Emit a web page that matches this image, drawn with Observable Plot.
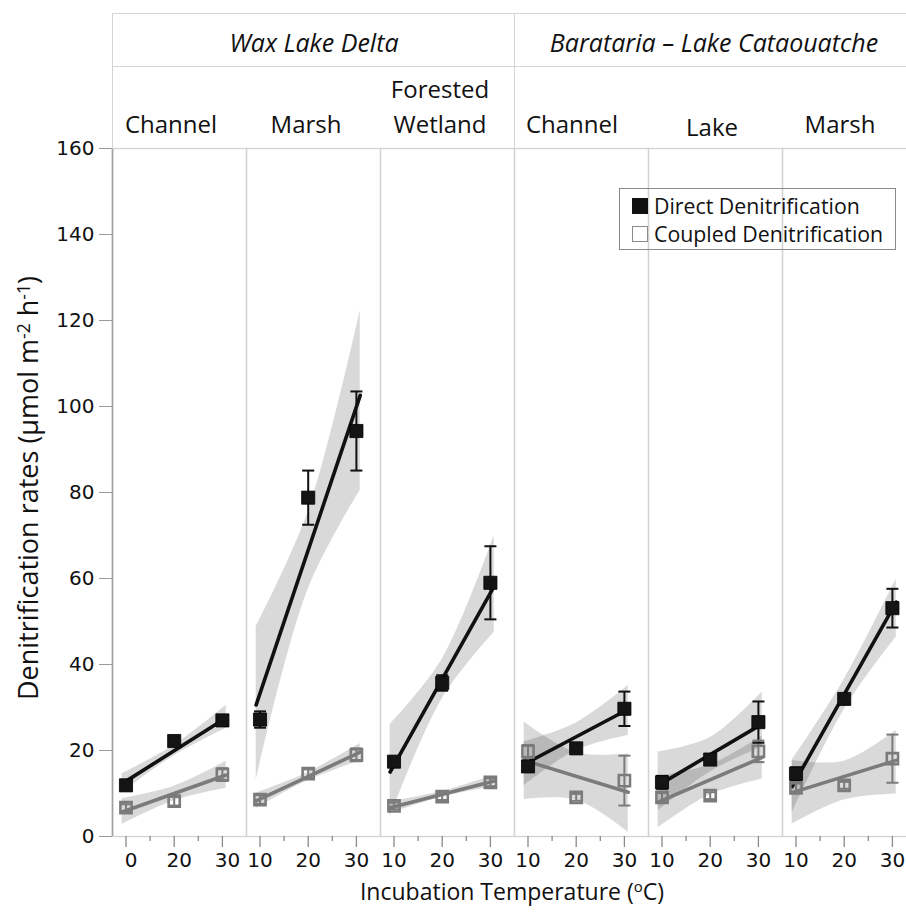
<!DOCTYPE html>
<html><head><meta charset="utf-8">
<script src="https://cdn.jsdelivr.net/npm/d3@7"></script>
<script src="https://cdn.jsdelivr.net/npm/@observablehq/plot@0.6"></script>
<style>
html,body{margin:0;padding:0;background:#fff;}
#wrap{position:relative;width:906px;height:921px;overflow:hidden;font-family:"Open Sans",sans-serif;color:#111;}
#wrap svg{position:absolute;left:0;top:0;max-width:none !important;width:916px !important;height:921px !important;}
.ln{position:absolute;background:#d4d4d4;}
.lbl{position:absolute;transform:translate(-50%,-50%);white-space:nowrap;line-height:1.15;text-align:center;}
.grp{font-style:italic;font-size:25px;}
.sub{font-size:24px;}
#legend{position:absolute;left:619px;top:188px;width:277px;height:62px;border:1.5px solid #8a8a8a;box-sizing:border-box;font-size:21.3px;}
#legend .it{position:absolute;left:12px;display:flex;align-items:center;white-space:nowrap;}
#legend .sq{width:16px;height:16px;box-sizing:border-box;margin-right:6px;}
sup{font-size:65%;vertical-align:0.5em;line-height:0;}
</style></head><body><div id="wrap"></div>
<script>
// ---------- data ----------
const panels = ["WLD Channel", "WLD Marsh", "WLD Forested Wetland", "BLC Channel", "BLC Lake", "BLC Marsh"];
const groups = ["Wax Lake Delta", "Barataria – Lake Cataouatche"];
const panelTitles = ["Channel", "Marsh", "Forested<br>Wetland", "Channel", "Lake", "Marsh"];
const series = ["Direct Denitrification", "Coupled Denitrification"];
const temps = [10, 20, 30];
const minorTemps = [15, 25];
const xTickLabels = [["0", "20", "30"], ["10", "20", "30"], ["10", "20", "30"], ["10", "20", "30"], ["10", "20", "30"], ["10", "20", "30"]];
const yTicks = [0, 20, 40, 60, 80, 100, 120, 140, 160];

const directMean = [[11.9, 22.2, 27.0], [27.2, 78.8, 94.3], [17.4, 35.7, 59.0], [16.3, 20.5, 29.7], [12.6, 17.9, 26.6], [14.6, 32.0, 53.1]];
const directErr  = [[1.0, 0.8, 1.2], [1.9, 6.3, 9.2], [1.0, 1.8, 8.5], [1.0, 1.0, 4.0], [1.5, 0.8, 4.8], [1.5, 0.8, 4.5]];
const coupledMean = [[6.7, 8.2, 14.4], [8.6, 14.6, 19.0], [7.1, 9.3, 12.6], [19.8, 9.1, 13.0], [9.1, 9.5, 19.8], [11.3, 11.9, 18.1]];
const coupledErr  = [[0.8, 1.0, 1.5], [1.0, 1.0, 1.5], [0.8, 0.8, 0.9], [1.5, 0.8, 5.8], [1.0, 0.8, 2.5], [1.0, 0.8, 5.6]];

// fitted regression lines (value at the two ends of the fit range)
const fitX = [9.2, 30.8];
const directFit  = [[12.3, 27.6], [30.6, 102.6], [15.0, 58.2], [16.8, 29.6], [11.9, 26.2], [11.6, 54.5]];
const coupledFit = [[5.7, 14.3], [8.3, 19.6], [6.7, 12.9], [17.7, 10.3], [8.0, 18.4], [10.2, 17.7]];

// confidence bands (lower / upper at the left end, middle and right end)
const bandX = [9.2, 20, 30.8];
const directBandLo  = [[10.2, 18.8, 25.2], [13.0, 57.5, 80.5], [4.5, 32.0, 47.5], [11.8, 20.0, 23.5], [6.0, 15.0, 20.8], [5.5, 29.5, 46.4]];
const directBandHi  = [[14.6, 21.2, 30.5], [48.7, 75.5, 122.3], [26.0, 41.2, 70.0], [22.0, 26.4, 35.1], [19.6, 23.0, 33.6], [17.7, 36.5, 59.9]];
const coupledBandLo = [[2.8, 8.3, 11.2], [6.5, 13.0, 17.6], [5.4, 9.1, 11.6], [8.6, 8.5, 1.0], [2.0, 9.7, 13.4], [2.9, 8.5, 9.9]];
const coupledBandHi = [[8.8, 11.7, 17.5], [10.1, 14.9, 21.6], [8.0, 10.5, 14.2], [26.6, 19.5, 19.2], [14.0, 16.7, 23.4], [17.7, 17.5, 24.7]];

// ---------- tables ----------
const points = [], fits = [], bands = [], xlabels = [];
panels.forEach((p, i) => {
  [[series[0], directMean, directErr, directFit, directBandLo, directBandHi],
   [series[1], coupledMean, coupledErr, coupledFit, coupledBandLo, coupledBandHi]].forEach(([s, m, e, f, lo, hi]) => {
    temps.forEach((t, j) => points.push({panel: p, series: s, x: t, y: m[i][j], lo: m[i][j] - e[i][j], hi: m[i][j] + e[i][j]}));
    fitX.forEach((x, k) => fits.push({panel: p, series: s, x, y: f[i][k]}));
    bandX.forEach((x, k) => bands.push({panel: p, series: s, x, lo: lo[i][k], hi: hi[i][k]}));
  });
  temps.forEach((t, j) => xlabels.push({panel: p, x: t, label: xTickLabels[i][j]}));
});
const col = s => s === series[0] ? "#111" : "#7b7b7b";
const capW = 1.25;
const xDomain = [7.2, 35];

const chart = Plot.plot({
  width: 916, height: 921,
  marginLeft: 112, marginRight: 0, marginTop: 148, marginBottom: 85,
  fx: {domain: panels, padding: 0, axis: null},
  x: {domain: xDomain, axis: null},
  y: {domain: [0, 160], axis: null},
  style: {fontFamily: "DejaVu Sans", fontSize: "20px", color: "#111", background: "transparent"},
  marks: [
    Plot.frame({stroke: "#d2d2d2", strokeWidth: 1.3}),
    Plot.ruleX([{p: panels[0], x: xDomain[0]}], {fx: "p", x: "x", stroke: "#a0a0a0", strokeWidth: 1.6}),
    Plot.areaY(bands, {fx: "panel", x: "x", y1: "lo", y2: "hi", z: "series", fill: "#000", fillOpacity: 0.15, curve: "catmull-rom"}),
    Plot.line(fits, {fx: "panel", x: "x", y: "y", z: "series", stroke: d => col(d.series), strokeWidth: 3.6}),
    Plot.ruleX(points, {fx: "panel", x: "x", y1: "lo", y2: "hi", stroke: d => col(d.series), strokeWidth: 2}),
    Plot.link(points, {fx: "panel", x1: d => d.x - capW, x2: d => d.x + capW, y1: "hi", y2: "hi", stroke: d => col(d.series), strokeWidth: 2}),
    Plot.link(points, {fx: "panel", x1: d => d.x - capW, x2: d => d.x + capW, y1: "lo", y2: "lo", stroke: d => col(d.series), strokeWidth: 2}),
    Plot.dot(points.filter(d => d.series === series[1]), {fx: "panel", x: "x", y: "y", symbol: "square", r: 6.3, fill: "none", stroke: "#7b7b7b", strokeWidth: 2.6}),
    Plot.dot(points.filter(d => d.series === series[0]), {fx: "panel", x: "x", y: "y", symbol: "square", r: 7.4, fill: "#141414", stroke: "#000", strokeWidth: 0.8}),
    Plot.axisX({ticks: temps, tickSize: 11, tickFormat: () => "", stroke: "#8a8a8a", strokeWidth: 1.3, label: null}),
    Plot.axisX({ticks: minorTemps, tickSize: 5, tickFormat: () => "", stroke: "#8a8a8a", strokeWidth: 1.3, label: null}),
    Plot.text(xlabels.filter(d => d.panel !== panels[0]), {fx: "panel", x: "x", text: "label", frameAnchor: "bottom", dy: 30, fill: "#111"}),
    Plot.text(xlabels.filter(d => d.panel === panels[0]), {fx: "panel", x: "x", text: "label", frameAnchor: "bottom", dy: 30, dx: 5, fill: "#111"}),
    Plot.axisY({ticks: yTicks, anchor: "left", tickSize: 13, tickPadding: 5, stroke: "#9a9a9a", label: null, fill: "#111"})
  ]
});

const wrap = document.getElementById("wrap");
wrap.appendChild(chart);

// header boxes
function line(l, t, w, h) { const d = document.createElement("div"); d.className = "ln"; Object.assign(d.style, {left: l + "px", top: t + "px", width: w + "px", height: h + "px"}); wrap.appendChild(d); }
line(112, 13, 800, 1.3); line(112, 65.5, 800, 1.3); line(111.5, 13, 1.3, 136); line(513.5, 13, 1.3, 136);
function label(html, x, y, cls) { const d = document.createElement("div"); d.className = "lbl " + cls; d.innerHTML = html; d.style.left = x + "px"; d.style.top = y + "px"; wrap.appendChild(d); return d; }
label(groups[0], 314, 42, "grp");
label(groups[1], 714, 42, "grp");
const subX = [171, 306, 440, 572, 712, 840];
const subY = [124, 124, 106, 124, 127, 124];
panelTitles.forEach((t, i) => { const d = label(t, subX[i], subY[i], "sub"); if (t.includes("<br>")) d.style.lineHeight = "35px"; });

// axis titles
const yt = label("Denitrification rates (µmol m<sup>-2</sup> h<sup>-1</sup>)", 28, 488, "ytitle");
yt.style.transform = "translate(-50%,-50%) rotate(-90deg)"; yt.style.fontSize = "27px";
const xt = label("Incubation Temperature (<sup>o</sup>C)", 512, 891, "xtitle");
xt.style.fontSize = "23px";

// legend
const lg = document.createElement("div"); lg.id = "legend";
lg.innerHTML = `<div class="it" style="top:2px"><div class="sq" style="background:#111"></div>${series[0]}</div>` +
  `<div class="it" style="top:30px"><div class="sq" style="border:1.5px solid #8a8a8a;background:#fff"></div>${series[1]}</div>`;
wrap.appendChild(lg);
</script>
</body></html>
